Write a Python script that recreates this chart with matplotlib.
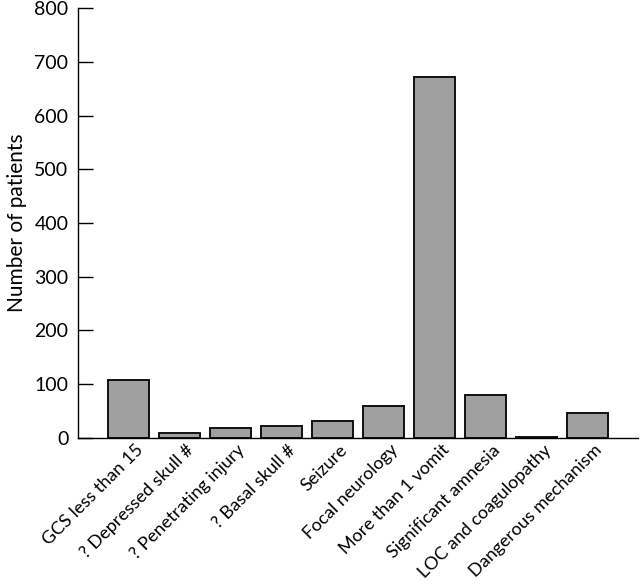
import matplotlib
matplotlib.use("Agg")
import matplotlib.pyplot as plt
import numpy as np

categories = ["GCS less than 15", "? Depressed skull #", "? Penetrating injury",
              "? Basal skull #", "Seizure", "Focal neurology", "More than 1 vomit",
              "Significant amnesia", "LOC and coagulopathy", "Dangerous mechanism"]
values = [108, 9, 19, 22, 32, 60, 672, 80, 2, 47]
yticks = [0, 100, 200, 300, 400, 500, 600, 700, 800]

plt.rcParams['font.family'] = ['Lato', 'DejaVu Sans']

fig = plt.figure(figsize=(6.4, 5.86), dpi=100)
ax = fig.add_axes([0.122, 0.253, 0.875, 0.733])

x = np.arange(len(categories))
ax.bar(x, values, width=0.82, color="#a0a0a0", edgecolor="#111111", linewidth=1.4)

ax.set_xlim(-0.99, 9.99)
ax.set_ylim(0, 800)
ax.set_yticks(yticks)
ax.set_yticklabels([str(t) for t in yticks], fontsize=14)
ax.tick_params(axis='y', direction='in', length=11, width=1, pad=7)
ax.set_xticks(x + 0.12)
ax.set_xticklabels(categories, rotation=45, ha='right', rotation_mode='anchor', fontsize=13)
ax.tick_params(axis='x', length=0, pad=3)
ax.spines['top'].set_visible(False)
ax.spines['right'].set_visible(False)
ax.spines['left'].set_linewidth(1)
ax.spines['bottom'].set_linewidth(1)
ax.set_ylabel("Number of patients", fontsize=15, labelpad=5)

fig.savefig("out.png", dpi=100)
